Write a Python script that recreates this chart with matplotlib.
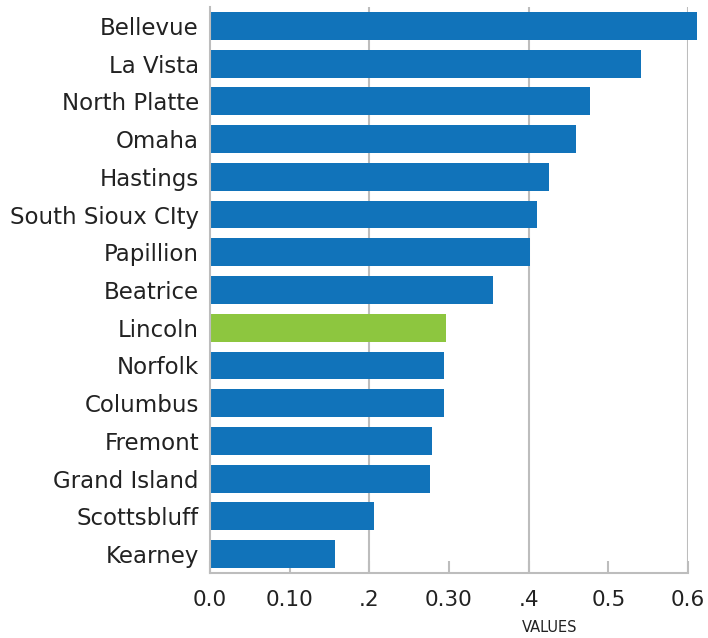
import matplotlib
matplotlib.use("Agg")
import matplotlib.pyplot as plt

cities = ["Bellevue", "La Vista", "North Platte", "Omaha", "Hastings",
          "South Sioux CIty", "Papillion", "Beatrice", "Lincoln", "Norfolk",
          "Columbus", "Fremont", "Grand Island", "Scottsbluff", "Kearney"]
values = [0.611, 0.541, 0.477, 0.459, 0.426, 0.410, 0.402, 0.355, 0.296,
          0.294, 0.294, 0.279, 0.276, 0.206, 0.157]
highlight = "Lincoln"
tick_values = [0.0, 0.1, 0.2, 0.3, 0.4, 0.5, 0.6]
tick_labels = ["0.0", "0.10", ".2", "0.30", ".4", "0.5", "0.6"]
grid_values = [0.2, 0.4, 0.6]

BLUE = "#1173ba"
GREEN = "#8dc63f"
GREY = "#bdbdbd"
TEXT = "#222222"

plt.rcParams['font.family'] = ['DejaVu Sans']

fig = plt.figure(figsize=(7.08, 6.38), dpi=100)
ax = fig.add_axes([210/708, 1-573/638, (688-210)/708, (573-7)/638])

ypos = list(range(len(cities)))
colors = [GREEN if c == highlight else BLUE for c in cities]
for gv in grid_values:
    ax.axvline(gv, color=GREY, lw=1.5, zorder=1)
bars = ax.barh(ypos, values, height=0.74, color=colors, zorder=2)
for b in bars:
    b.set_clip_on(False)

ax.set_xlim(0, 0.6)
ax.set_ylim(len(cities) - 0.5, -0.5)
ax.set_yticks(ypos)
ax.set_yticklabels(cities, fontsize=16.5, color=TEXT)
ax.set_xticks(tick_values)
ax.set_xticklabels(tick_labels, fontsize=15.5, color=TEXT)
ax.tick_params(axis='y', length=0, pad=8)
ax.tick_params(axis='x', direction='in', length=9, width=1.5, color=GREY, pad=12)

for s in ["top", "right"]:
    ax.spines[s].set_visible(False)
for s in ["left", "bottom"]:
    ax.spines[s].set_color(GREY)
    ax.spines[s].set_linewidth(1.5)
ax.spines["left"].set_zorder(3)

fig.text(550/708, 1-628/638, "VALUES", fontsize=10.5, color=TEXT,
         ha='center', va='center')

fig.savefig("out.png", dpi=100)
